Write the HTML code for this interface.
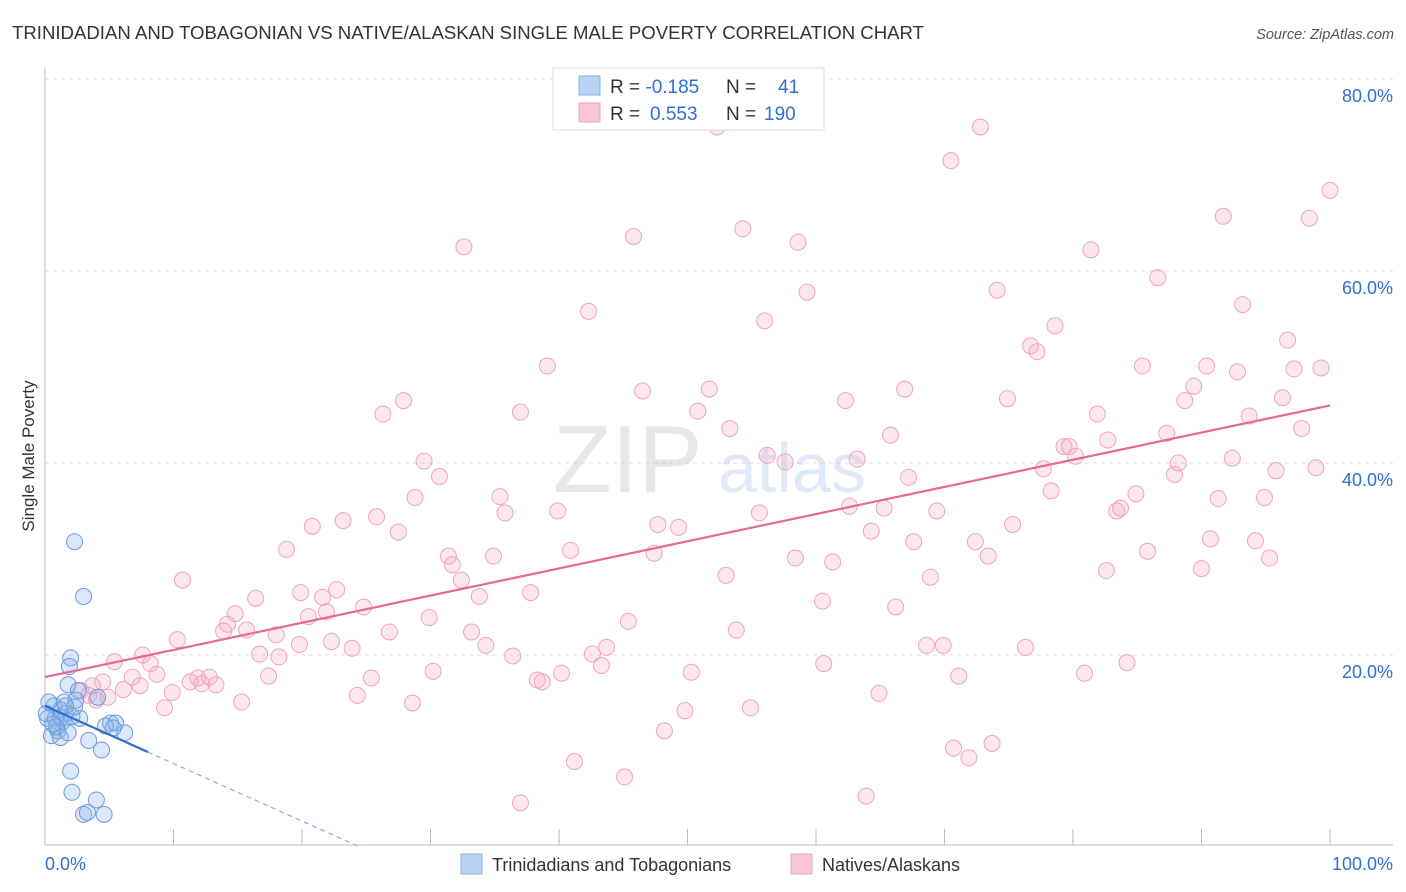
<!DOCTYPE html>
<html><head><meta charset="utf-8">
<style>
body{margin:0;background:#fff;font-family:"Liberation Sans",sans-serif;}
#wrap{position:relative;width:1406px;height:892px;overflow:hidden;}
svg text{font-family:"Liberation Sans",sans-serif;}
</style></head>
<body>
<div id="wrap">
<svg id="chart" width="1406" height="892">
  <text x="12" y="39" font-size="18.6" fill="#333">TRINIDADIAN AND TOBAGONIAN VS NATIVE/ALASKAN SINGLE MALE POVERTY CORRELATION CHART</text>
  <text x="1394" y="39" font-size="14.5" fill="#555" font-style="italic" text-anchor="end">Source: ZipAtlas.com</text>
  <g id="grid"></g>
  <g opacity="0.35">
    <text x="553" y="492" font-size="96" fill="#bbb" font-family="Liberation Serif,serif">ZIP</text>
    <text x="718" y="492" font-size="70" fill="#a9c3ea">atlas</text>
  </g>
  <g id="axes"></g>
  <g id="pink"></g>
  <g id="blue"></g>
  <g id="trends"></g>
  <text transform="translate(34,456) rotate(-90)" font-size="17" fill="#333" text-anchor="middle">Single Male Poverty</text>
  <g>
    <rect x="553" y="68" width="271" height="62" fill="#fff" stroke="#ddd"/>
    <rect x="579" y="76" width="21" height="19" fill="#b9d3f5" stroke="#8ab0e6"/>
    <rect x="579" y="103" width="21" height="19" fill="#f9c6d6" stroke="#f0a0bc"/>
    <text x="610" y="93" font-size="19" fill="#333">R = <tspan fill="#2f6fd0">-0.185</tspan><tspan x="726">N = </tspan><tspan x="778" fill="#2f6fd0">41</tspan></text>
    <text x="610" y="120" font-size="19" fill="#333">R = <tspan x="650" fill="#2f6fd0">0.553</tspan><tspan x="726">N = </tspan><tspan x="764" fill="#2f6fd0">190</tspan></text>
  </g>
  <g>
    <rect x="461" y="854" width="21" height="20" fill="#b9d3f5" stroke="#8ab0e6"/>
    <text x="492" y="871" font-size="18" fill="#333">Trinidadians and Tobagonians</text>
    <rect x="791" y="854" width="21" height="20" fill="#f9c6d6" stroke="#f0a0bc"/>
    <text x="822" y="871" font-size="18" fill="#333">Natives/Alaskans</text>
  </g>
</svg>
</div>
<script>
const pinkX=[52.3,72.8,70.5,100,91.7,98.4,32.6,45.8,54.3,58.6,81.4,86.6,59.3,74.1,42.3,56.0,93.2,78.6,96.7,76.7,77.2,39.1,85.4,90.4,92.8,97.2,99.3,46.5,51.7,66.9,89.4,27.9,26.3,37.0,50.8,62.3,74.9,81.9,88.7,96.3,93.7,53.3,65.8,82.7,97.8,87.3,79.3,79.7,80.2,29.5,30.7,56.2,57.6,63.2,92.4,88.2,95.8,98.9,67.2,77.7,87.9,28.8,35.4,78.3,84.9,91.3,94.9,35.8,39.9,62.6,65.3,69.4,25.8,23.2,20.8,27.5,55.6,83.4,83.7,75.3,47.7,49.3,64.3,18.8,31.4,34.9,40.9,47.4,67.6,72.4,73.4,85.8,90.7,94.2,95.3,31.7,32.4,53.0,58.4,61.3,68.9,82.6,90.0,10.7,22.7,16.4,19.9,21.6,33.8,37.8,60.5,66.2,14.8,14.2,24.8,29.9,21.9,20.5,13.9,15.7,18.0,26.8,33.2,45.4,53.8,10.3,22.3,23.9,34.3,19.8,7.6,8.2,5.4,16.7,18.2,36.4,42.6,43.7,68.6,69.9,76.3,60.6,84.2,8.7,6.8,4.5,17.4,25.4,30.2,40.2,43.3,50.3,80.9,71.1,3.7,4.0,6.1,4.9,7.4,9.9,11.3,11.9,12.8,12.2,13.3,24.3,38.3,38.7,15.3,28.6,9.3,54.9,49.8,64.9,48.2,70.7,73.7,71.9,41.2,45.1,37.0,63.9,2.8,3.4];
const pinkY=[75.0,75.0,71.5,68.4,65.7,65.5,62.5,63.6,64.4,63.0,62.2,59.3,57.8,58.0,55.8,54.8,56.5,54.3,52.8,52.2,51.6,50.1,50.1,50.1,49.5,49.8,49.9,47.5,47.7,47.7,48.0,46.5,45.1,45.3,45.4,46.5,46.7,45.1,46.5,46.8,44.9,43.6,42.9,42.4,43.6,43.1,41.7,41.7,40.7,40.2,38.6,40.8,40.1,40.4,40.5,40.0,39.2,39.5,38.5,39.4,38.8,36.4,36.5,37.1,36.8,36.3,36.4,34.8,35.0,35.5,35.3,35.0,34.4,34.0,33.4,32.8,34.8,35.0,35.3,33.6,33.6,33.3,32.9,31.0,30.3,30.3,30.9,30.6,31.8,31.8,30.3,30.8,32.1,31.9,30.1,29.4,27.8,28.3,30.1,29.7,28.1,28.8,29.0,27.8,26.8,25.9,26.5,26.0,26.1,26.5,25.6,25.0,24.3,23.2,25.0,23.9,24.5,24.0,22.5,22.6,22.1,22.4,22.4,23.5,22.6,21.6,21.4,20.7,21.0,21.1,20.0,19.1,19.3,20.1,19.8,19.9,20.1,20.8,21.0,21.0,20.8,19.1,19.2,18.0,17.7,17.2,17.8,17.6,18.3,18.1,18.9,18.2,18.1,17.8,16.8,15.3,16.4,15.6,16.8,16.1,17.2,17.6,17.7,17.0,16.9,15.8,17.4,17.2,15.1,15.0,14.5,14.5,14.2,16.0,12.1,10.3,10.8,9.3,8.9,7.3,4.6,5.3,16.3,15.8];
const blueX=[2.3,3.0,2.0,1.9,1.8,2.6,1.5,2.4,4.1,0.7,1.2,1.6,0.2,0.8,1.4,2.1,2.7,5.1,5.5,4.7,6.2,0.5,1.0,1.2,3.4,4.4,2.0,2.1,4.0,3.0,3.3,4.6,0.3,0.1,0.9,1.8,1.2,2.3,5.3,0.6,1.6];
const blueY=[31.8,26.1,19.7,18.8,16.9,16.3,15.1,15.3,15.6,14.7,14.3,13.9,13.4,13.4,13.1,13.6,13.4,12.9,12.9,12.6,11.9,11.6,12.1,11.4,11.1,10.1,7.9,5.7,4.9,3.4,3.6,3.4,15.1,13.9,12.5,11.9,13.5,14.6,12.4,12.8,14.7];
const pinkTrend=[17.7,0.283]; // intercept, slope
const blueTrend=[14.7,-0.6];
const blueSolidEnd=8;
const yTicks=[20,40,60,80];
const yTickLabels=["20.0%","40.0%","60.0%","80.0%"];
const xTicks=[0,10,20,30,40,50,60,70,80,90,100];

const X0=45,X1=1330,Y0=847,YS=9.6;
const sx=v=>X0+(X1-X0)*v/100;
const sy=v=>Y0-v*YS;
const NS="http://www.w3.org/2000/svg";
function mk(tag,attrs,parent){const e=document.createElementNS(NS,tag);for(const k in attrs)e.setAttribute(k,attrs[k]);parent.appendChild(e);return e;}
const grid=document.getElementById('grid'),axes=document.getElementById('axes');
yTicks.forEach((t,i)=>{
  const l=mk('line',{x1:45,x2:1393,y1:sy(t),y2:sy(t),stroke:'#ddd','stroke-dasharray':'4,4'},grid);
  
  
  const tx=mk('text',{x:1393,y:sy(t)+23,'font-size':18,fill:'#2f6fd0','text-anchor':'end'},axes);
  tx.textContent=yTickLabels[i];
  
  
});
const ax=mk('line',{x1:45,x2:1393,y1:845,y2:845,stroke:'#bbb'},axes);


const ay=mk('line',{x1:45,x2:45,y1:68,y2:845,stroke:'#bbb'},axes);


xTicks.forEach(t=>{
  if(t===0)return;
  const l=mk('line',{x1:sx(t),x2:sx(t),y1:829,y2:845,stroke:'#bbb'},axes);
  
  
});
const xl0=mk('text',{x:45,y:870,'font-size':18,fill:'#2f6fd0'},axes);xl0.textContent='0.0%';


const xl1=mk('text',{x:1393,y:870,'font-size':18,fill:'#2f6fd0','text-anchor':'end'},axes);xl1.textContent='100.0%';



const pg=document.getElementById('pink');
pinkX.forEach((x,i)=>{
  const c=mk('circle',{cx:sx(x),cy:sy(pinkY[i]),r:8,fill:'rgba(244,170,196,0.28)',stroke:'#f0a3be','stroke-width':1},pg);
  
  
});
const bg=document.getElementById('blue');
blueX.forEach((x,i)=>{
  const c=mk('circle',{cx:sx(x),cy:sy(blueY[i]),r:8,fill:'rgba(140,180,235,0.3)',stroke:'#6b9bdc','stroke-width':1},bg);
  
  
});
const tg=document.getElementById('trends');
const pl=mk('line',{x1:sx(0),y1:sy(pinkTrend[0]),x2:sx(100),y2:sy(pinkTrend[0]+pinkTrend[1]*100),stroke:'#e8679a','stroke-width':2.2},tg);


const bs=mk('line',{x1:sx(0),y1:sy(blueTrend[0]),x2:sx(blueSolidEnd),y2:sy(blueTrend[0]+blueTrend[1]*blueSolidEnd),stroke:'#2f6fd0','stroke-width':2.2},tg);


const xEnd=-blueTrend[0]/blueTrend[1];
const bd=mk('line',{x1:sx(blueSolidEnd),y1:sy(blueTrend[0]+blueTrend[1]*blueSolidEnd),x2:sx(xEnd),y2:sy(0),stroke:'#8ab0e6','stroke-width':1.2,'stroke-dasharray':'5,4'},tg);


</script>
</body></html>
